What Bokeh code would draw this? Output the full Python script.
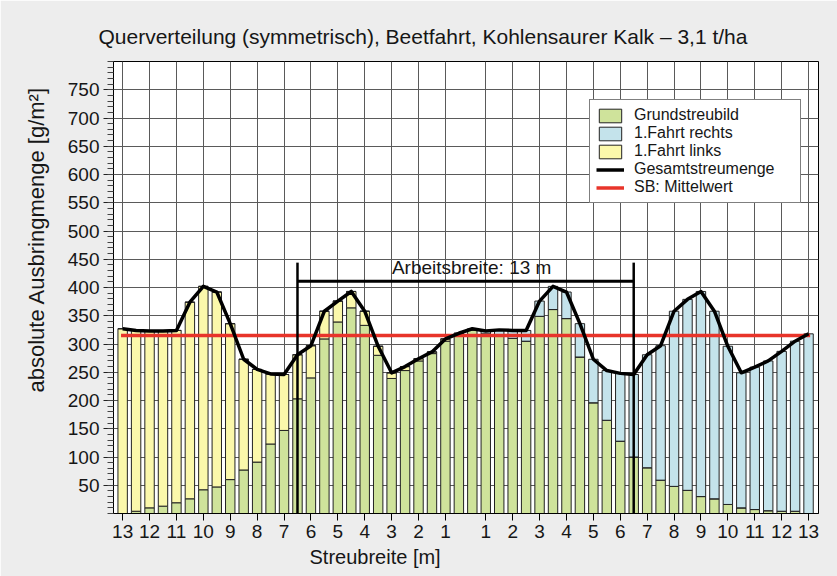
from bokeh.plotting import figure
from bokeh.models import (ColumnDataSource, FixedTicker, Label, Legend, LegendItem, Range1d, Title)
from bokeh.embed import file_html
from bokeh.resources import INLINE

# ---------------- data ----------------
# bar positions: 52 trays, every 0.5 m
positions = list(range(52))
# tick positions / labels of the x axis (left 13..1, right 1..13)
x_tick_pos = [0, 2, 4, 6, 8, 10, 12, 14, 16, 18, 20, 22, 24,
              27, 29, 31, 33, 35, 37, 39, 41, 43, 45, 47, 49, 51]
x_tick_lab = ["13", "12", "11", "10", "9", "8", "7", "6", "5", "4", "3", "2", "1",
              "1", "2", "3", "4", "5", "6", "7", "8", "9", "10", "11", "12", "13"]

# Grundstreubild (g/m2)
grund = [0, 4, 10, 13, 19, 26, 42, 47, 60, 77, 91, 123, 147,
         203, 240, 309, 339, 364, 333, 280, 239, 253, 270, 283, 305, 316,
         325, 318, 316, 310, 305, 349, 361, 345, 277, 196, 165, 128, 100,
         81, 59, 48, 41, 30, 26, 16, 10, 7, 5, 4, 4, 0]
# 1.Fahrt links (g/m2)
links = [327, 320, 313, 310, 305, 348, 360, 345, 276, 196, 164, 124, 99,
         78, 57, 49, 37, 29, 25, 16, 10, 7, 4, 3, 4, 3,
         0, 0, 0, 0, 0, 0, 0, 0, 0, 0, 0, 0, 0,
         0, 0, 0, 0, 0, 0, 0, 0, 0, 0, 0, 0, 0]
# 1.Fahrt rechts (g/m2)
rechts = [0, 0, 0, 0, 0, 0, 0, 0, 0, 0, 0, 0, 0,
          0, 0, 0, 0, 0, 0, 0, 0, 0, 0, 0, 0, 0,
          2, 5, 9, 14, 19, 27, 41, 47, 59, 77, 88, 120, 146,
          200, 238, 310, 338, 363, 332, 280, 239, 252, 265, 283, 301, 318]
# SB: Mittelwert
mittelwert = 315
# Arbeitsbreite bracket
arbeitsbreite_text = "Arbeitsbreite: 13 m"
aw_left, aw_right = 13, 38
aw_level, aw_top = 411, 444

title_text = "Querverteilung (symmetrisch), Beetfahrt, Kohlensaurer Kalk \u2013 3,1 t/ha"
y_label = "absolute Ausbringmenge [g/m\u00b2]"
x_label = "Streubreite [m]"

# ---------------- derived stacks ----------------
g_top = grund
gl_top = [g + l for g, l in zip(grund, links)]
total = [a + r for a, r in zip(gl_top, rechts)]

src = ColumnDataSource(dict(x=positions, g=g_top, gl=gl_top, total=total))

FONT = "Liberation Sans"
TXT = "#161616"

p = figure(width=837, height=576,
           x_range=Range1d(-0.68, 51.74), y_range=Range1d(0, 800),
           output_backend="svg", toolbar_location=None,
           min_border_left=113, min_border_right=19,
           min_border_top=61, min_border_bottom=63)
p.background_fill_color = "white"
p.border_fill_color = "#ededed"
p.outline_line_color = "black"
p.outline_line_width = 1

# title (above)
p.title.text = title_text
p.title.align = "left"
p.title.offset = -15
p.title.text_font = FONT
p.title.text_font_size = "21px"
p.title.text_font_style = "normal"
p.title.text_color = TXT
p.title.vertical_align = "bottom"
p.title.standoff = 28

# axes
xt = FixedTicker(ticks=x_tick_pos)
xa = p.xaxis[0]
xa.ticker = xt
xa.major_label_overrides = {pos: lab for pos, lab in zip(x_tick_pos, x_tick_lab)}
xa.major_tick_out = 7
xa.major_tick_in = 0
xa.minor_tick_out = 0
xa.minor_tick_in = 0
xa.major_label_standoff = 4
xa.major_label_text_font = FONT
xa.major_label_text_font_size = "19px"
xa.major_label_text_color = TXT
xa.axis_line_color = "black"
xa.major_tick_line_color = "black"

yt = FixedTicker(ticks=list(range(50, 800, 50)), minor_ticks=list(range(0, 801, 10)))
ya = p.yaxis[0]
ya.ticker = yt
ya.major_tick_out = 10
ya.major_tick_in = 0
ya.minor_tick_out = 6
ya.minor_tick_in = 0
ya.major_label_standoff = 4
ya.major_label_text_font = FONT
ya.major_label_text_font_size = "19px"
ya.major_label_text_color = TXT
ya.axis_line_color = "black"
ya.major_tick_line_color = "#222222"
ya.minor_tick_line_color = "#444444"

p.xgrid.ticker = xt
p.ygrid.ticker = FixedTicker(ticks=list(range(50, 800, 50)))
for g in (p.xgrid[0], p.ygrid[0]):
    g.grid_line_color = "#5a5a5a"
    g.grid_line_width = 1

# axis titles (as side titles so they can be placed off-centre)
p.add_layout(Title(text=x_label, align="left", offset=196, text_font=FONT,
                   text_font_size="20px", text_font_style="normal", text_color=TXT,
                   vertical_align="top", standoff=10), "below")
p.add_layout(Title(text=y_label, align="left", offset=121, text_font=FONT,
                   text_font_size="22px", text_font_style="normal", text_color=TXT,
                   vertical_align="bottom", standoff=32), "left")

# bars
BW = 0.7
r_green = p.vbar(x="x", bottom=0, top="g", width=BW, source=src,
                 fill_color="#cfe39b", line_color="#222222", line_width=1)
r_yellow = p.vbar(x="x", bottom="g", top="gl", width=BW, source=src,
                  fill_color="#fbf8ab", line_color="#222222", line_width=1)
r_blue = p.vbar(x="x", bottom="gl", top="total", width=BW, source=src,
                fill_color="#c4e3eb", line_color="#222222", line_width=1)

# mean line
r_mean = p.line(x=[positions[0] - 0.12, positions[-1] + 0.12], y=[mittelwert, mittelwert],
                line_color="#e8342a", line_width=3.5)

# Arbeitsbreite bracket
p.segment(x0=[aw_left, aw_left, aw_right], y0=[aw_level, 0, 0],
          x1=[aw_right, aw_left, aw_right], y1=[aw_level, aw_top, aw_top],
          line_color="black", line_width=[3, 2.5, 2.5])
p.add_layout(Label(x=(aw_left + aw_right) / 2 + 0.45, y=436, text=arbeitsbreite_text,
                   text_align="center", text_baseline="alphabetic",
                   text_font=FONT, text_font_size="19px", text_color=TXT))

# total line
r_total = p.line(x="x", y="total", source=src, line_color="black", line_width=3.5,
                 line_join="round")

legend = Legend(items=[
    LegendItem(label="Grundstreubild", renderers=[r_green]),
    LegendItem(label="1.Fahrt rechts", renderers=[r_blue]),
    LegendItem(label="1.Fahrt links", renderers=[r_yellow]),
    LegendItem(label="Gesamtstreumenge", renderers=[r_total]),
    LegendItem(label="SB: Mittelwert", renderers=[r_mean]),
], location=(476, 310))
legend.border_line_color = "black"
legend.border_line_width = 1
legend.background_fill_color = "white"
legend.background_fill_alpha = 1
legend.label_text_font = FONT
legend.label_text_font_size = "16px"
legend.label_text_color = TXT
legend.glyph_width = 28
legend.glyph_height = 17
legend.label_height = 17
legend.label_width = 160
legend.spacing = 0
legend.padding = 6
legend.label_standoff = 10
legend.margin = 0
p.add_layout(legend)

open("out.html", "w").write(file_html(p, INLINE))
